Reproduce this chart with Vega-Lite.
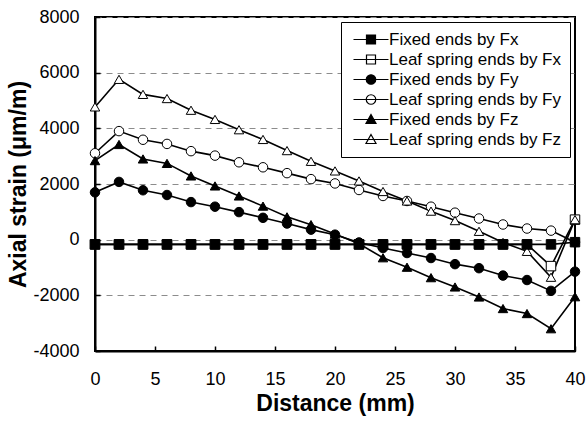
{
  "$schema": "https://vega.github.io/schema/vega-lite/v6.json",
  "autosize": {"type": "none"},
  "padding": {"left": 95, "top": 17, "right": 11, "bottom": 70},
  "width": 480,
  "height": 334,
  "background": "white",
  "config": {
    "font": "Liberation Sans",
    "view": {"stroke": "black", "strokeWidth": 2},
    "axis": {
      "domainColor": "black",
      "domainWidth": 2,
      "tickColor": "black",
      "tickWidth": 1.5,
      "labelColor": "black",
      "titleColor": "black",
      "labelFont": "Liberation Sans",
      "titleFont": "Liberation Sans"
    },
    "legend": {
      "title": null,
      "orient": "none",
      "legendX": 246,
      "legendY": 5,
      "symbolSize": 100,
      "symbolOpacity": 1,
      "symbolStrokeColor": "black",
      "symbolStrokeWidth": 1.2,
      "labelOffset": 22,
      "labelFontSize": 17,
      "labelFont": "Liberation Sans",
      "labelColor": "black",
      "labelLimit": 400,
      "rowPadding": 2,
      "padding": 9,
      "strokeColor": "black",
      "fillColor": "white",
      "cornerRadius": 0
    }
  },
  "data": {
    "values": [
      {"s": "Leaf spring ends by Fx", "x": 0, "y": -170},
      {"s": "Leaf spring ends by Fx", "x": 2, "y": -170},
      {"s": "Leaf spring ends by Fx", "x": 4, "y": -170},
      {"s": "Leaf spring ends by Fx", "x": 6, "y": -170},
      {"s": "Leaf spring ends by Fx", "x": 8, "y": -170},
      {"s": "Leaf spring ends by Fx", "x": 10, "y": -170},
      {"s": "Leaf spring ends by Fx", "x": 12, "y": -170},
      {"s": "Leaf spring ends by Fx", "x": 14, "y": -170},
      {"s": "Leaf spring ends by Fx", "x": 16, "y": -170},
      {"s": "Leaf spring ends by Fx", "x": 18, "y": -170},
      {"s": "Leaf spring ends by Fx", "x": 20, "y": -170},
      {"s": "Leaf spring ends by Fx", "x": 22, "y": -170},
      {"s": "Leaf spring ends by Fx", "x": 24, "y": -170},
      {"s": "Leaf spring ends by Fx", "x": 26, "y": -170},
      {"s": "Leaf spring ends by Fx", "x": 28, "y": -170},
      {"s": "Leaf spring ends by Fx", "x": 30, "y": -170},
      {"s": "Leaf spring ends by Fx", "x": 32, "y": -170},
      {"s": "Leaf spring ends by Fx", "x": 34, "y": -170},
      {"s": "Leaf spring ends by Fx", "x": 36, "y": -170},
      {"s": "Leaf spring ends by Fx", "x": 38, "y": -950},
      {"s": "Leaf spring ends by Fx", "x": 40, "y": 720},
      {"s": "Fixed ends by Fy", "x": 0, "y": 1700},
      {"s": "Fixed ends by Fy", "x": 2, "y": 2075},
      {"s": "Fixed ends by Fy", "x": 4, "y": 1775},
      {"s": "Fixed ends by Fy", "x": 6, "y": 1605},
      {"s": "Fixed ends by Fy", "x": 8, "y": 1350},
      {"s": "Fixed ends by Fy", "x": 10, "y": 1185},
      {"s": "Fixed ends by Fy", "x": 12, "y": 990},
      {"s": "Fixed ends by Fy", "x": 14, "y": 785},
      {"s": "Fixed ends by Fy", "x": 16, "y": 580},
      {"s": "Fixed ends by Fy", "x": 18, "y": 360},
      {"s": "Fixed ends by Fy", "x": 20, "y": 180},
      {"s": "Fixed ends by Fy", "x": 22, "y": -100},
      {"s": "Fixed ends by Fy", "x": 24, "y": -300},
      {"s": "Fixed ends by Fy", "x": 26, "y": -480},
      {"s": "Fixed ends by Fy", "x": 28, "y": -660},
      {"s": "Fixed ends by Fy", "x": 30, "y": -880},
      {"s": "Fixed ends by Fy", "x": 32, "y": -1025},
      {"s": "Fixed ends by Fy", "x": 34, "y": -1290},
      {"s": "Fixed ends by Fy", "x": 36, "y": -1450},
      {"s": "Fixed ends by Fy", "x": 38, "y": -1840},
      {"s": "Fixed ends by Fy", "x": 40, "y": -1150},
      {"s": "Leaf spring ends by Fy", "x": 0, "y": 3105},
      {"s": "Leaf spring ends by Fy", "x": 2, "y": 3900},
      {"s": "Leaf spring ends by Fy", "x": 4, "y": 3590},
      {"s": "Leaf spring ends by Fy", "x": 6, "y": 3440},
      {"s": "Leaf spring ends by Fy", "x": 8, "y": 3180},
      {"s": "Leaf spring ends by Fy", "x": 10, "y": 3020},
      {"s": "Leaf spring ends by Fy", "x": 12, "y": 2780},
      {"s": "Leaf spring ends by Fy", "x": 14, "y": 2600},
      {"s": "Leaf spring ends by Fy", "x": 16, "y": 2390},
      {"s": "Leaf spring ends by Fy", "x": 18, "y": 2175},
      {"s": "Leaf spring ends by Fy", "x": 20, "y": 2020},
      {"s": "Leaf spring ends by Fy", "x": 22, "y": 1785},
      {"s": "Leaf spring ends by Fy", "x": 24, "y": 1570},
      {"s": "Leaf spring ends by Fy", "x": 26, "y": 1390},
      {"s": "Leaf spring ends by Fy", "x": 28, "y": 1185},
      {"s": "Leaf spring ends by Fy", "x": 30, "y": 970},
      {"s": "Leaf spring ends by Fy", "x": 32, "y": 760},
      {"s": "Leaf spring ends by Fy", "x": 34, "y": 545},
      {"s": "Leaf spring ends by Fy", "x": 36, "y": 400},
      {"s": "Leaf spring ends by Fy", "x": 38, "y": 325},
      {"s": "Leaf spring ends by Fy", "x": 40, "y": -90},
      {"s": "Fixed ends by Fz", "x": 0, "y": 2840},
      {"s": "Fixed ends by Fz", "x": 2, "y": 3420},
      {"s": "Fixed ends by Fz", "x": 4, "y": 2900},
      {"s": "Fixed ends by Fz", "x": 6, "y": 2740},
      {"s": "Fixed ends by Fz", "x": 8, "y": 2290},
      {"s": "Fixed ends by Fz", "x": 10, "y": 1930},
      {"s": "Fixed ends by Fz", "x": 12, "y": 1570},
      {"s": "Fixed ends by Fz", "x": 14, "y": 1205},
      {"s": "Fixed ends by Fz", "x": 16, "y": 820},
      {"s": "Fixed ends by Fz", "x": 18, "y": 540},
      {"s": "Fixed ends by Fz", "x": 20, "y": 200},
      {"s": "Fixed ends by Fz", "x": 22, "y": -150},
      {"s": "Fixed ends by Fz", "x": 24, "y": -650},
      {"s": "Fixed ends by Fz", "x": 26, "y": -990},
      {"s": "Fixed ends by Fz", "x": 28, "y": -1365},
      {"s": "Fixed ends by Fz", "x": 30, "y": -1700},
      {"s": "Fixed ends by Fz", "x": 32, "y": -2060},
      {"s": "Fixed ends by Fz", "x": 34, "y": -2475},
      {"s": "Fixed ends by Fz", "x": 36, "y": -2655},
      {"s": "Fixed ends by Fz", "x": 38, "y": -3200},
      {"s": "Fixed ends by Fz", "x": 40, "y": -2050},
      {"s": "Leaf spring ends by Fz", "x": 0, "y": 4770},
      {"s": "Leaf spring ends by Fz", "x": 2, "y": 5760},
      {"s": "Leaf spring ends by Fz", "x": 4, "y": 5220},
      {"s": "Leaf spring ends by Fz", "x": 6, "y": 5070},
      {"s": "Leaf spring ends by Fz", "x": 8, "y": 4650},
      {"s": "Leaf spring ends by Fz", "x": 10, "y": 4320},
      {"s": "Leaf spring ends by Fz", "x": 12, "y": 3950},
      {"s": "Leaf spring ends by Fz", "x": 14, "y": 3600},
      {"s": "Leaf spring ends by Fz", "x": 16, "y": 3200},
      {"s": "Leaf spring ends by Fz", "x": 18, "y": 2815},
      {"s": "Leaf spring ends by Fz", "x": 20, "y": 2470},
      {"s": "Leaf spring ends by Fz", "x": 22, "y": 2110},
      {"s": "Leaf spring ends by Fz", "x": 24, "y": 1730},
      {"s": "Leaf spring ends by Fz", "x": 26, "y": 1390},
      {"s": "Leaf spring ends by Fz", "x": 28, "y": 1025},
      {"s": "Leaf spring ends by Fz", "x": 30, "y": 685},
      {"s": "Leaf spring ends by Fz", "x": 32, "y": 300},
      {"s": "Leaf spring ends by Fz", "x": 34, "y": -100},
      {"s": "Leaf spring ends by Fz", "x": 36, "y": -420},
      {"s": "Leaf spring ends by Fz", "x": 38, "y": -1350},
      {"s": "Leaf spring ends by Fz", "x": 40, "y": 720},
      {"s": "Fixed ends by Fx", "x": 0, "y": -170},
      {"s": "Fixed ends by Fx", "x": 2, "y": -170},
      {"s": "Fixed ends by Fx", "x": 4, "y": -170},
      {"s": "Fixed ends by Fx", "x": 6, "y": -170},
      {"s": "Fixed ends by Fx", "x": 8, "y": -170},
      {"s": "Fixed ends by Fx", "x": 10, "y": -170},
      {"s": "Fixed ends by Fx", "x": 12, "y": -170},
      {"s": "Fixed ends by Fx", "x": 14, "y": -170},
      {"s": "Fixed ends by Fx", "x": 16, "y": -170},
      {"s": "Fixed ends by Fx", "x": 18, "y": -170},
      {"s": "Fixed ends by Fx", "x": 20, "y": -170},
      {"s": "Fixed ends by Fx", "x": 22, "y": -170},
      {"s": "Fixed ends by Fx", "x": 24, "y": -170},
      {"s": "Fixed ends by Fx", "x": 26, "y": -170},
      {"s": "Fixed ends by Fx", "x": 28, "y": -170},
      {"s": "Fixed ends by Fx", "x": 30, "y": -170},
      {"s": "Fixed ends by Fx", "x": 32, "y": -170},
      {"s": "Fixed ends by Fx", "x": 34, "y": -170},
      {"s": "Fixed ends by Fx", "x": 36, "y": -170},
      {"s": "Fixed ends by Fx", "x": 38, "y": -170},
      {"s": "Fixed ends by Fx", "x": 40, "y": -90}
    ]
  },
  "encoding": {
    "x": {
      "field": "x", "type": "quantitative",
      "scale": {"domain": [0, 40], "nice": false},
      "axis": {
        "values": [0, 5, 10, 15, 20, 25, 30, 35, 40],
        "grid": false,
        "tickSize": -5,
        "labelPadding": 24,
        "labelFontSize": 18,
        "labelFlush": false,
        "title": "Distance (mm)",
        "titleFontSize": 23,
        "titleFontWeight": "bold",
        "titleBaseline": "middle",
        "titleX": 240,
        "titleY": 52
      }
    },
    "y": {
      "field": "y", "type": "quantitative",
      "scale": {"domain": [-4000, 8000], "nice": false, "zero": false},
      "axis": {
        "values": [-4000, -2000, 0, 2000, 4000, 6000, 8000],
        "grid": true,
        "gridColor": "#8c8c8c",
        "gridDash": [6, 5],
        "gridWidth": 1,
        "tickSize": -5,
        "labelPadding": 21,
        "labelFontSize": 18,
        "labelFlush": false,
        "labelExpr": "'' + datum.value",
        "title": "Axial strain (μm/m)",
        "titleFontSize": 23,
        "titleFontWeight": "bold",
        "titleAngle": -90,
        "titleBaseline": "middle",
        "titleAlign": "center",
        "titleX": -77,
        "titleY": 167
      }
    }
  },
  "layer": [
    {
      "mark": {"type": "line", "color": "black", "strokeWidth": 1.6},
      "encoding": {"detail": {"field": "s"}}
    },
    {
      "mark": {"type": "point", "filled": true, "stroke": "black", "strokeWidth": 1, "opacity": 1, "size": 90},
      "encoding": {
        "shape": {
          "field": "s", "type": "nominal",
          "scale": {
            "domain": ["Fixed ends by Fx", "Leaf spring ends by Fx", "Fixed ends by Fy", "Leaf spring ends by Fy", "Fixed ends by Fz", "Leaf spring ends by Fz"],
            "range": ["square", "square", "circle", "circle", "triangle-up", "triangle-up"]
          },
          "legend": null
        },
        "fill": {
          "field": "s", "type": "nominal",
          "scale": {
            "domain": ["Fixed ends by Fx", "Leaf spring ends by Fx", "Fixed ends by Fy", "Leaf spring ends by Fy", "Fixed ends by Fz", "Leaf spring ends by Fz"],
            "range": ["black", "white", "black", "white", "black", "white"]
          },
          "legend": null
        }
      }
    },
    {
      "mark": {"type": "point", "filled": true, "strokeWidth": 1, "opacity": 0},
      "encoding": {
        "shape": {
          "field": "s", "type": "nominal",
          "scale": {
            "domain": ["Fixed ends by Fx", "Leaf spring ends by Fx", "Fixed ends by Fy", "Leaf spring ends by Fy", "Fixed ends by Fz", "Leaf spring ends by Fz"],
            "range": [
              "M-1,0L6,0M1.6,-0.9L3.4,-0.9L3.4,0.9L1.6,0.9Z",
              "M-1,0L6,0M1.6,-0.9L3.4,-0.9L3.4,0.9L1.6,0.9Z",
              "M-1,0L6,0M1.55,0A0.95,0.95,0,1,0,3.45,0A0.95,0.95,0,1,0,1.55,0Z",
              "M-1,0L6,0M1.55,0A0.95,0.95,0,1,0,3.45,0A0.95,0.95,0,1,0,1.55,0Z",
              "M-1,0L6,0M2.5,-1L3.5,0.8L1.5,0.8Z",
              "M-1,0L6,0M2.5,-1L3.5,0.8L1.5,0.8Z"
            ]
          }
        },
        "fill": {
          "field": "s", "type": "nominal",
          "scale": {
            "domain": ["Fixed ends by Fx", "Leaf spring ends by Fx", "Fixed ends by Fy", "Leaf spring ends by Fy", "Fixed ends by Fz", "Leaf spring ends by Fz"],
            "range": ["black", "white", "black", "white", "black", "white"]
          }
        },
        "stroke": {
          "field": "s", "type": "nominal",
          "scale": {
            "domain": ["Fixed ends by Fx", "Leaf spring ends by Fx", "Fixed ends by Fy", "Leaf spring ends by Fy", "Fixed ends by Fz", "Leaf spring ends by Fz"],
            "range": ["black", "black", "black", "black", "black", "black"]
          }
        }
      }
    }
  ],
  "resolve": {"scale": {"shape": "independent", "fill": "independent", "stroke": "independent"}}
}
